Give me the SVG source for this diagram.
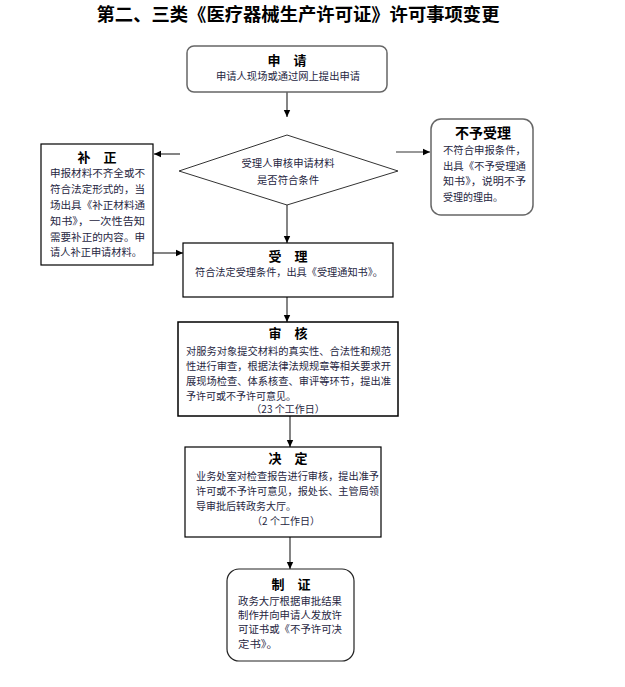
<svg xmlns="http://www.w3.org/2000/svg" width="625" height="687" viewBox="0 0 625 687">
<style>
.t{font-family:"Noto Sans CJK SC","Liberation Sans",sans-serif;fill:#26263f;font-size:10px}
.h{font-family:"Noto Sans CJK SC","Liberation Sans",sans-serif;fill:#000;font-size:13px;font-weight:bold;text-anchor:middle}
.title{font-family:"Noto Sans CJK SC","Liberation Sans",sans-serif;fill:#000;font-size:18px;font-weight:bold;text-anchor:middle}
.c{text-anchor:middle}
.box{fill:#fff;stroke:#000;stroke-width:1.2}
.gbox{fill:#fff;stroke:#666;stroke-width:1.5}
.ln{stroke:#333;stroke-width:1.2;fill:none}
</style>
<defs>
<marker id="ah" markerWidth="8" markerHeight="8" refX="7" refY="4" orient="auto" markerUnits="userSpaceOnUse">
<path d="M0,0.8 L7,4 L0,7.2 Z" fill="#000"/>
</marker>
</defs>
<rect width="625" height="687" fill="#fff"/>
<text class="title" x="298" y="21" textLength="403" lengthAdjust="spacingAndGlyphs">第二、三类《医疗器械生产许可证》许可事项变更</text>

<g id="connectors">
<line class="ln" x1="287" y1="92" x2="287" y2="117" marker-end="url(#ah)"/>
<line class="ln" x1="180" y1="154" x2="154" y2="154" marker-end="url(#ah)"/>
<line class="ln" x1="396" y1="152" x2="430" y2="152" marker-end="url(#ah)"/>
<line class="ln" x1="153" y1="253" x2="183" y2="253" marker-end="url(#ah)"/>
<line class="ln" x1="287" y1="205" x2="287" y2="243" marker-end="url(#ah)"/>
<line class="ln" x1="287" y1="297" x2="287" y2="322" marker-end="url(#ah)"/>
<line class="ln" x1="290" y1="416" x2="290" y2="447" marker-end="url(#ah)"/>
<line class="ln" x1="290" y1="537" x2="290" y2="569" marker-end="url(#ah)"/>
</g>

<g id="n-apply">
<rect class="gbox" x="187" y="46" width="200" height="46" rx="7"/>
<text class="h" x="287" y="65">申　请</text>
<text class="t c" x="288" y="80" textLength="144" lengthAdjust="spacingAndGlyphs">申请人现场或通过网上提出申请</text>
</g>

<g id="n-check">
<polygon points="287,135 398,171 287,205 179,171" fill="#fff" stroke="#333" stroke-width="1"/>
<text class="t c" x="288" y="167" textLength="93" lengthAdjust="spacingAndGlyphs">受理人审核申请材料</text>
<text class="t c" x="288" y="184" textLength="62" lengthAdjust="spacingAndGlyphs">是否符合条件</text>
</g>

<g id="n-correct">
<rect class="box" x="41" y="144" width="112" height="121"/>
<text class="h" x="97" y="162">补　正</text>
<text class="t" x="50" y="177" textLength="95" lengthAdjust="spacingAndGlyphs">申报材料不齐全或不</text>
<text class="t" x="50" y="193" textLength="95" lengthAdjust="spacingAndGlyphs">符合法定形式的，当</text>
<text class="t" x="50" y="209" textLength="95" lengthAdjust="spacingAndGlyphs">场出具《补正材料通</text>
<text class="t" x="50" y="225" textLength="95" lengthAdjust="spacingAndGlyphs">知书》，一次性告知</text>
<text class="t" x="50" y="241" textLength="95" lengthAdjust="spacingAndGlyphs">需要补正的内容。申</text>
<text class="t" x="50" y="256" textLength="92" lengthAdjust="spacingAndGlyphs">请人补正申请材料。</text>
</g>

<g id="n-reject">
<rect class="gbox" x="431" y="119" width="102" height="96" rx="10"/>
<text class="h" x="483" y="138" style="font-size:14px">不予受理</text>
<text class="t" x="443" y="154" textLength="83" lengthAdjust="spacingAndGlyphs">不符合申报条件，</text>
<text class="t" x="443" y="170" textLength="83" lengthAdjust="spacingAndGlyphs">出具《不予受理通</text>
<text class="t" x="443" y="185" textLength="83" lengthAdjust="spacingAndGlyphs">知书》，说明不予</text>
<text class="t" x="443" y="201" textLength="60" lengthAdjust="spacingAndGlyphs">受理的理由。</text>
</g>

<g id="n-accept">
<rect class="box" x="183" y="243" width="210" height="54"/>
<text class="h" x="288" y="261">受　理</text>
<text class="t" x="195" y="276" textLength="188" lengthAdjust="spacingAndGlyphs">符合法定受理条件，出具《受理通知书》。</text>
</g>

<g id="n-review">
<rect class="box" x="178" y="322" width="220" height="94" style="stroke-width:1.5"/>
<text class="h" x="288" y="338">审　核</text>
<text class="t" x="186" y="355" textLength="205" lengthAdjust="spacingAndGlyphs">对服务对象提交材料的真实性、合法性和规范</text>
<text class="t" x="186" y="370" textLength="205" lengthAdjust="spacingAndGlyphs">性进行审查，根据法律法规规章等相关要求开</text>
<text class="t" x="186" y="385" textLength="205" lengthAdjust="spacingAndGlyphs">展现场检查、体系核查、审评等环节，提出准</text>
<text class="t" x="186" y="400" textLength="110" lengthAdjust="spacingAndGlyphs">予许可或不予许可意见。</text>
<text class="t c" x="288" y="413">（23 个工作日）</text>
</g>

<g id="n-decide">
<rect class="box" x="185" y="447" width="196" height="90"/>
<text class="h" x="288" y="463">决　定</text>
<text class="t" x="196" y="480" textLength="183" lengthAdjust="spacingAndGlyphs">业务处室对检查报告进行审核，提出准予</text>
<text class="t" x="196" y="495" textLength="183" lengthAdjust="spacingAndGlyphs">许可或不予许可意见，报处长、主管局领</text>
<text class="t" x="196" y="510" textLength="100" lengthAdjust="spacingAndGlyphs">导审批后转政务大厅。</text>
<text class="t c" x="286" y="525">（2 个工作日）</text>
</g>

<g id="n-issue">
<rect class="box" x="227" y="569" width="127" height="92" rx="12" style="stroke:#222"/>
<text class="h" x="291" y="589">制　证</text>
<text class="t" x="238" y="605" textLength="104" lengthAdjust="spacingAndGlyphs">政务大厅根据审批结果</text>
<text class="t" x="238" y="619" textLength="104" lengthAdjust="spacingAndGlyphs">制作并向申请人发放许</text>
<text class="t" x="238" y="633" textLength="104" lengthAdjust="spacingAndGlyphs">可证书或《不予许可决</text>
<text class="t" x="238" y="648" textLength="40" lengthAdjust="spacingAndGlyphs">定书》。</text>
</g>
</svg>
